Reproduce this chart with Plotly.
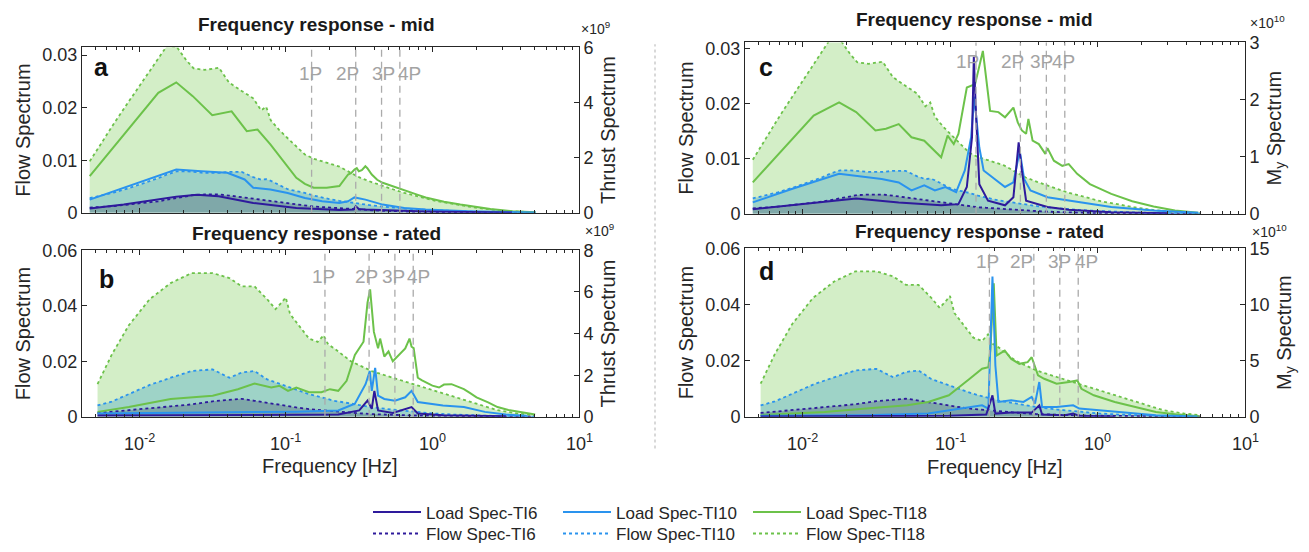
import math
import plotly.graph_objects as go

W, H = 1309, 552

# ---------------- inflow (flow) spectra ----------------
FREQ_FLOW_MID = [0.0046, 0.0055, 0.0068, 0.0085, 0.011, 0.0135, 0.0155, 0.018, 0.021, 0.0235,
                 0.028, 0.035, 0.041, 0.05, 0.06, 0.068, 0.0735, 0.079, 0.09, 0.103,
                 0.12, 0.135, 0.155, 0.177, 0.2, 0.232, 0.27, 0.326, 0.39, 0.458,
                 0.55, 0.643, 0.75, 0.9, 1.05, 1.27, 1.5, 1.77, 2.1, 2.49,
                 3.0, 3.49, 4.2, 5.0]
FLOW_MID_TI18 = [0.0098, 0.0133, 0.0172, 0.0212, 0.0258, 0.0294, 0.0318, 0.0316, 0.029, 0.0275,
                 0.0272, 0.0276, 0.0248, 0.0232, 0.0218, 0.0195, 0.0202, 0.0176, 0.0158, 0.0142,
                 0.0124, 0.0111, 0.0103, 0.0098, 0.0093, 0.0088, 0.0078, 0.0066, 0.0058, 0.0051,
                 0.0044, 0.0038, 0.0033, 0.0028, 0.0023, 0.0019, 0.0015, 0.0012, 0.0009, 0.0006,
                 0.0004, 0.0003, 0.0002, 0.0001]
FLOW_MID_TI10 = [0.0028, 0.0033, 0.0039, 0.0047, 0.0057, 0.0066, 0.0073, 0.0079, 0.0079, 0.0078,
                 0.0076, 0.0076, 0.0078, 0.0078, 0.0068, 0.0063, 0.0064, 0.0061, 0.0053, 0.0045,
                 0.0041, 0.0038, 0.0033, 0.0029, 0.0026, 0.0023, 0.002, 0.0017, 0.0014, 0.0012,
                 0.001, 0.0008, 0.0007, 0.0006, 0.0005, 0.0004, 0.0003, 0.00025, 0.0002, 0.00015,
                 0.0001, 0.00008, 0.00005, 0.00003]
FLOW_MID_TI6 = [0.001, 0.0011, 0.0013, 0.0016, 0.0019, 0.0022, 0.0025, 0.0028, 0.0031, 0.0034,
                0.0035, 0.0035, 0.0033, 0.003, 0.0026, 0.0024, 0.0023, 0.0022, 0.002, 0.0018,
                0.0016, 0.0014, 0.0012, 0.0011, 0.001, 0.0008, 0.0007, 0.0006, 0.0005, 0.0004,
                0.0003, 0.00025, 0.0002, 0.00015, 0.00012, 0.0001, 0.00008, 0.00006, 0.00005, 0.00004,
                0.00003, 0.00002, 0.00002, 0.00001]

FREQ_FLOW_RATED = [0.0052, 0.0065, 0.0085, 0.0118, 0.0164, 0.0228, 0.0317, 0.0412, 0.0502, 0.0612,
                   0.0746, 0.0851, 0.093, 0.1, 0.107, 0.118, 0.144, 0.165, 0.181, 0.195,
                   0.214, 0.278, 0.386, 0.536, 0.745, 1.03, 1.44, 2.0, 2.78, 3.85, 5.0]
FLOW_RATED_TI18 = [0.0118, 0.0224, 0.033, 0.0424, 0.0482, 0.0518, 0.0518, 0.05, 0.047, 0.047,
                   0.0424, 0.0388, 0.041, 0.043, 0.037, 0.0341, 0.0282, 0.027, 0.0294, 0.026,
                   0.0247, 0.02, 0.0165, 0.0141, 0.0118, 0.0094, 0.0071, 0.0047, 0.0024, 0.0012, 0.0006]
FLOW_RATED_TI10 = [0.0041, 0.0055, 0.0082, 0.0115, 0.0141, 0.0165, 0.0171, 0.0141, 0.016, 0.0165,
                   0.0135, 0.0125, 0.0118, 0.0112, 0.0106, 0.0098, 0.0082, 0.0074, 0.0068, 0.0064,
                   0.0058, 0.0048, 0.0035, 0.0026, 0.0018, 0.0012, 0.0008, 0.0005, 0.0003, 0.0002, 0.0001]
FLOW_RATED_TI6 = [0.0014, 0.0018, 0.0024, 0.0031, 0.0038, 0.0045, 0.0056, 0.0062, 0.0065, 0.0058,
                  0.005, 0.0046, 0.0042, 0.004, 0.0037, 0.0034, 0.0028, 0.0025, 0.0023, 0.0021,
                  0.0019, 0.0015, 0.001, 0.0007, 0.0005, 0.0004, 0.0003, 0.0002, 0.00015, 0.0001, 0.00005]

# ---------------- thrust spectra, mid wind speed (x1e9) ----------------
F_THR_MID_TI18 = [0.0046, 0.00785, 0.0135, 0.0179, 0.0232, 0.0315, 0.0427, 0.0542, 0.0642, 0.0785,
                  0.0964, 0.118, 0.135, 0.155, 0.19, 0.232, 0.266, 0.28, 0.294, 0.305,
                  0.315, 0.33, 0.349, 0.36, 0.386, 0.42, 0.458, 0.5, 0.6, 0.7,
                  0.787, 0.9, 1.03, 1.2, 1.55, 2.49, 3.49, 5.07]
THR_MID_TI18 = [1.33, 2.84, 4.35, 4.73, 4.23, 3.54, 3.68, 2.96, 3.02, 2.48,
                1.87, 1.27, 1.05, 0.91, 0.91, 0.97, 1.39, 1.45, 1.57, 1.62,
                1.51, 1.55, 1.69, 1.62, 1.39, 1.2, 1.09, 1.02, 0.85, 0.74,
                0.66, 0.56, 0.48, 0.4, 0.3, 0.14, 0.06, 0.02]
F_THR_MID_TI10 = [0.0046, 0.00785, 0.0179, 0.0266, 0.0399, 0.0524, 0.06, 0.0785, 0.103, 0.135,
                  0.177, 0.232, 0.266, 0.294, 0.305, 0.349, 0.458, 0.643, 0.9, 1.77, 5.07]
THR_MID_TI10 = [0.48, 0.91, 1.57, 1.51, 1.45, 1.21, 0.91, 0.85, 0.72, 0.54,
                0.42, 0.36, 0.42, 0.56, 0.54, 0.48, 0.3, 0.18, 0.12, 0.06, 0.01]
F_THR_MID_TI6 = [0.0046, 0.00785, 0.0179, 0.0248, 0.0348, 0.06, 0.118, 0.232, 0.29, 0.30,
                 0.315, 0.349, 0.9, 3.49]
THR_MID_TI6 = [0.16, 0.3, 0.58, 0.66, 0.6, 0.36, 0.18, 0.1, 0.12, 0.24,
               0.14, 0.12, 0.05, 0.01]

# ---------------- thrust spectra, rated wind speed (x1e9) ----------------
F_THR_RATED_TI18 = [0.0052, 0.0085, 0.0164, 0.0317, 0.0471, 0.0612, 0.0796, 0.0908, 0.1035, 0.118,
                    0.144, 0.175, 0.2, 0.228, 0.26, 0.296, 0.339, 0.361, 0.376, 0.386,
                    0.399, 0.426, 0.44, 0.47, 0.502, 0.537, 0.592, 0.653, 0.698, 0.721,
                    0.745, 0.795, 0.85, 0.908, 1.0, 1.11, 1.2, 1.35, 1.5, 1.64,
                    1.8, 2.0, 2.4, 2.78, 3.3, 3.86, 5.02]
THR_RATED_TI18 = [0.24, 0.47, 0.86, 1.02, 1.33, 1.6, 1.41, 1.49, 1.25, 1.41,
                  1.18, 1.18, 1.33, 1.25, 1.73, 2.98, 3.61, 5.49, 6.12, 5.0,
                  4.08, 3.29, 3.76, 2.9, 3.14, 2.67, 2.98, 3.29, 3.76, 3.37,
                  3.3, 1.88, 1.75, 1.65, 1.5, 1.41, 1.55, 1.57, 1.45, 1.33,
                  1.15, 0.94, 0.7, 0.47, 0.33, 0.24, 0.11]
F_THR_RATED_TI10 = [0.0052, 0.0164, 0.0612, 0.118, 0.228, 0.296, 0.35, 0.374, 0.386, 0.407,
                    0.426, 0.47, 0.555, 0.653, 0.721, 0.795, 1.18, 1.64, 2.28, 3.17, 4.4]
THR_RATED_TI10 = [0.16, 0.19, 0.22, 0.25, 0.31, 0.63, 1.57, 2.2, 1.25, 2.35,
                  1.02, 0.86, 0.78, 0.94, 1.25, 0.71, 0.55, 0.47, 0.24, 0.11, 0.05]
F_THR_RATED_TI6 = [0.0052, 0.0612, 0.228, 0.317, 0.361, 0.386, 0.402, 0.426, 0.537, 0.721,
                   0.795, 1.18, 3.17]
THR_RATED_TI6 = [0.06, 0.08, 0.11, 0.31, 0.78, 0.39, 1.25, 0.31, 0.19, 0.47,
                 0.16, 0.08, 0.03]

# ---------------- My spectra, mid wind speed (x1e10) ----------------
F_MY_MID_TI18 = [0.0046, 0.0075, 0.0119, 0.0177, 0.0231, 0.0312, 0.0368, 0.0449, 0.0548, 0.0669,
                 0.0871, 0.0963, 0.106, 0.114, 0.13, 0.148, 0.167, 0.187, 0.213, 0.236,
                 0.269, 0.288, 0.307, 0.328, 0.34, 0.363, 0.40, 0.443, 0.458, 0.506,
                 0.577, 0.638, 0.728, 0.888, 1.24, 1.72, 2.40, 3.35, 4.82]
MY_MID_TI18 = [0.55, 1.16, 1.72, 1.95, 1.78, 1.46, 1.49, 1.57, 1.34, 1.28,
               0.99, 1.37, 1.22, 1.4, 2.21, 2.27, 2.85, 1.8, 1.78, 1.69,
               1.86, 1.6, 1.46, 1.4, 1.66, 1.28, 1.22, 1.05, 1.15, 0.93,
               0.84, 0.87, 0.7, 0.52, 0.35, 0.22, 0.13, 0.06, 0.02]
F_MY_MID_TI10 = [0.0046, 0.00855, 0.0177, 0.0344, 0.0449, 0.0548, 0.0669, 0.0789, 0.0931, 0.11,
                 0.126, 0.139, 0.146, 0.158, 0.169, 0.193, 0.236, 0.269, 0.297, 0.318,
                 0.351, 0.458, 0.638, 1.24, 2.40, 4.82]
MY_MID_TI10 = [0.2, 0.44, 0.7, 0.61, 0.55, 0.41, 0.5, 0.41, 0.47, 0.38,
               0.76, 1.34, 2.05, 1.16, 0.76, 0.64, 0.47, 0.55, 1.1, 0.61,
               0.41, 0.29, 0.23, 0.12, 0.06, 0.02]
F_MY_MID_TI6 = [0.0046, 0.00855, 0.0231, 0.0449, 0.0871, 0.114, 0.13, 0.141, 0.145, 0.150,
                0.158, 0.181, 0.236, 0.269, 0.292, 0.307, 0.328, 0.458, 0.638, 1.24, 3.0]
MY_MID_TI6 = [0.08, 0.15, 0.27, 0.2, 0.15, 0.17, 0.47, 1.34, 2.75, 1.75,
              0.52, 0.23, 0.15, 0.29, 1.25, 0.76, 0.23, 0.12, 0.07, 0.03, 0.01]

# ---------------- My spectra, rated wind speed (x1e10) ----------------
F_MY_RATED_TI18 = [0.0052, 0.0141, 0.027, 0.0514, 0.0711, 0.0982, 0.136, 0.165, 0.182, 0.188,
                   0.198, 0.207, 0.235, 0.26, 0.295, 0.336, 0.358, 0.395, 0.435, 0.528,
                   0.641, 0.73, 0.778, 0.944, 1.31, 1.8, 2.49, 3.45, 4.92]
MY_RATED_TI18 = [0.15, 0.44, 0.74, 1.03, 1.33, 1.92, 3.39, 4.28, 4.42, 6.05,
                 11.9, 5.46, 5.9, 5.16, 4.72, 4.87, 5.31, 3.69, 3.39, 2.95,
                 3.1, 3.24, 2.5, 1.92, 1.33, 0.88, 0.44, 0.21, 0.06]
F_MY_RATED_TI10 = [0.0052, 0.027, 0.0711, 0.136, 0.165, 0.182, 0.194, 0.203, 0.213, 0.26,
                   0.315, 0.358, 0.377, 0.403, 0.421, 0.528, 0.684, 0.753, 1.31, 2.49, 4.76]
MY_RATED_TI10 = [0.09, 0.15, 0.29, 0.88, 1.03, 0.74, 12.5, 4.57, 1.33, 1.47,
                 1.33, 1.77, 1.18, 3.1, 0.88, 0.88, 1.03, 0.74, 0.44, 0.15, 0.03]
F_MY_RATED_TI6 = [0.0052, 0.0982, 0.176, 0.194, 0.203, 0.26, 0.358, 0.403, 0.421, 0.601,
                  0.684, 0.753, 1.31]
MY_RATED_TI6 = [0.03, 0.09, 0.21, 1.92, 0.29, 0.38, 0.38, 1.03, 0.21, 0.15,
                0.29, 0.09, 0.03]

# rotor harmonics (Hz)
HARM_LABELS = ["1P", "2P", "3P", "4P"]
HARM_MID = [0.15, 0.30, 0.45, 0.60]
HARM_RATED = [0.185, 0.37, 0.555, 0.74]

# frequency axis ticks
X_TICKS = [0.01, 0.1, 1, 10]
X_TICK_TEXT = ["10<sup>-2</sup>", "10<sup>-1</sup>", "10<sup>0</sup>", "10<sup>1</sup>"]

PURPLE = "#2e1a9c"
BLUE = "#2a93ee"
GREEN = "#6cc24a"
FILL = {"TI18": "rgba(110,200,70,0.30)", "TI10": "rgba(60,160,200,0.35)", "TI6": "rgba(80,105,125,0.40)"}
COL = {"TI6": PURPLE, "TI10": BLUE, "TI18": GREEN}
TXT = "#262626"
FONT = "Liberation Sans, Arial, sans-serif"


def px_x(p):
    return p / W


def px_y(p):
    return 1 - p / H


panels = [
    dict(letter="a", title="Frequency response - mid", xa="x", ya="y", yb="y2",
         xd=(82, 579), yd=(48, 216), title_xy=(316, 25), letter_xy=(101, 68),
         lrange=0.0315, lticks=[0, 0.01, 0.02, 0.03], rrange=6, rticks=[0, 2, 4, 6],
         rtitle="Thrust Spectrum", expo="×10<sup>9</sup>", expo_xy=(579, 28),
         fq=FREQ_FLOW_MID, flow=[FLOW_MID_TI18, FLOW_MID_TI10, FLOW_MID_TI6],
         load=[(F_THR_MID_TI18, THR_MID_TI18), (F_THR_MID_TI10, THR_MID_TI10), (F_THR_MID_TI6, THR_MID_TI6)],
         harm=HARM_MID, hlab_y=75, hshift=[-1, -8, 2, 10], bottom=False),
    dict(letter="c", title="Frequency response - mid", xa="x2", ya="y3", yb="y4",
         xd=(745, 1245), yd=(43, 217), title_xy=(975, 20), letter_xy=(766, 68),
         lrange=0.0311, lticks=[0, 0.01, 0.02, 0.03], rrange=3, rticks=[0, 1, 2, 3],
         rtitle="M<sub>y</sub> Spectrum", expo="×10<sup>10</sup>", expo_xy=(1248, 22),
         fq=FREQ_FLOW_MID, flow=[FLOW_MID_TI18, FLOW_MID_TI10, FLOW_MID_TI6],
         load=[(F_MY_MID_TI18, MY_MID_TI18), (F_MY_MID_TI10, MY_MID_TI10), (F_MY_MID_TI6, MY_MID_TI6)],
         harm=HARM_MID, hlab_y=62, hshift=[-8, -8, -5, -1], bottom=False),
    dict(letter="b", title="Frequency response - rated", xa="x3", ya="y5", yb="y6",
         xd=(82, 579), yd=(254, 423), title_xy=(316, 237), letter_xy=(106, 283),
         lrange=0.06, lticks=[0, 0.02, 0.04, 0.06], rrange=8, rticks=[0, 2, 4, 6, 8],
         rtitle="Thrust Spectrum", expo="×10<sup>9</sup>", expo_xy=(583, 233),
         fq=FREQ_FLOW_RATED, flow=[FLOW_RATED_TI18, FLOW_RATED_TI10, FLOW_RATED_TI6],
         load=[(F_THR_RATED_TI18, THR_RATED_TI18), (F_THR_RATED_TI10, THR_RATED_TI10), (F_THR_RATED_TI6, THR_RATED_TI6)],
         harm=HARM_RATED, hlab_y=281, hshift=[-1, -3, -1, 5], bottom=True, xtitle_xy=(330, 473)),
    dict(letter="d", title="Frequency response - rated", xa="x4", ya="y7", yb="y8",
         xd=(745, 1245), yd=(252, 423), title_xy=(979, 235), letter_xy=(766, 275),
         lrange=0.06, lticks=[0, 0.02, 0.04, 0.06], rrange=15, rticks=[0, 5, 10, 15],
         rtitle="M<sub>y</sub> Spectrum", expo="×10<sup>10</sup>", expo_xy=(1250, 234),
         fq=FREQ_FLOW_RATED, flow=[FLOW_RATED_TI18, FLOW_RATED_TI10, FLOW_RATED_TI6],
         load=[(F_MY_RATED_TI18, MY_RATED_TI18), (F_MY_RATED_TI10, MY_RATED_TI10), (F_MY_RATED_TI6, MY_RATED_TI6)],
         harm=HARM_RATED, hlab_y=265, hshift=[-2, -12, 0, 8], bottom=True, xtitle_xy=(995, 474)),
]

fig = go.Figure()
layout = dict(width=W, height=H, autosize=False, margin=dict(l=0, r=0, t=0, b=0),
              paper_bgcolor="white", plot_bgcolor="white",
              font=dict(family=FONT, size=18, color=TXT), showlegend=True)
annotations, shapes = [], []

minor_vals = [k * 10 ** e for e in range(-3, 1) for k in range(2, 10)]
names = ["TI18", "TI10", "TI6"]

for p in panels:
    xa, ya, yb = p["xa"], p["ya"], p["yb"]
    xkey = "xaxis" + xa[1:]
    ykey = "yaxis" + ya[1:]
    y2key = "yaxis" + yb[1:]
    # flow spectra: dotted outline with translucent fill
    for nm, vals in zip(names, p["flow"]):
        fig.add_trace(go.Scatter(x=p["fq"], y=vals, xaxis=xa, yaxis=ya, mode="lines",
                                 fill="tozeroy", fillcolor=FILL[nm],
                                 line=dict(color=COL[nm], width=1.8, dash="dot"),
                                 showlegend=False, hoverinfo="skip"))
    # load spectra: solid lines on the right axis
    for nm, (fx, vals) in zip(names, p["load"]):
        fig.add_trace(go.Scatter(x=fx, y=vals, xaxis=xa, yaxis=yb, mode="lines",
                                 line=dict(color=COL[nm], width=2),
                                 showlegend=False, hoverinfo="skip"))
    x0, x1 = px_x(p["xd"][0]), px_x(p["xd"][1])
    ylo, yhi = px_y(p["yd"][1]), px_y(p["yd"][0])
    layout[xkey] = dict(type="log", range=[-2.39, 1.0], domain=[x0, x1], anchor=ya,
                        showline=True, linecolor=TXT, linewidth=1, mirror="ticks",
                        ticks="inside", ticklen=5, tickcolor=TXT, tickvals=X_TICKS,
                        showticklabels=False, showgrid=False, zeroline=False,
                        minor=dict(ticks="inside", ticklen=3, tickcolor=TXT, tickvals=minor_vals, showgrid=False),
                        automargin=False)
    layout[ykey] = dict(range=[0, p["lrange"]], domain=[ylo, yhi], anchor=xa,
                        showline=True, linecolor=TXT, linewidth=1,
                        ticks="inside", ticklen=5, tickcolor=TXT,
                        tickvals=p["lticks"], ticktext=[("%g" % v) for v in p["lticks"]],
                        showgrid=False, zeroline=False, automargin=False,
                        title=dict(text="Flow Spectrum", font=dict(size=20), standoff=6),
                        tickfont=dict(size=18))
    layout[y2key] = dict(range=[0, p["rrange"]], overlaying=ya, side="right", anchor=xa,
                         showline=True, linecolor=TXT, linewidth=1,
                         ticks="inside", ticklen=5, tickcolor=TXT,
                         tickvals=p["rticks"], showgrid=False, zeroline=False, automargin=False,
                         title=dict(text=p["rtitle"], font=dict(size=20), standoff=8),
                         tickfont=dict(size=18))
    # frequency tick labels and axis title under the bottom panels
    if p["bottom"]:
        for tv, tt in zip(X_TICKS, X_TICK_TEXT):
            annotations.append(dict(text=tt, xref=xa, yref="paper", x=math.log10(tv), y=px_y(449),
                                    xanchor="center", yanchor="middle", showarrow=False,
                                    font=dict(size=18, color=TXT)))
        annotations.append(dict(text="Frequency [Hz]", xref="paper", yref="paper",
                                x=px_x(p["xtitle_xy"][0]), y=px_y(p["xtitle_xy"][1]),
                                xanchor="center", yanchor="middle", showarrow=False,
                                font=dict(size=20, color=TXT)))
    # rotor harmonic markers
    for lab, f, sh in zip(HARM_LABELS, p["harm"], p["hshift"]):
        shapes.append(dict(type="line", xref=xa, yref=ya + " domain", x0=f, x1=f, y0=0, y1=1,
                           line=dict(color="#ababab", width=1.3, dash="7px,5px"), layer="above"))
        annotations.append(dict(text=lab, xref=xa, yref="paper", x=math.log10(f), y=px_y(p["hlab_y"]),
                                xanchor="center", yanchor="middle", xshift=sh, showarrow=False,
                                font=dict(size=19, color="#a3a3a3")))
    annotations.append(dict(text="<b>%s</b>" % p["title"], xref="paper", yref="paper",
                            x=px_x(p["title_xy"][0]), y=px_y(p["title_xy"][1]),
                            xanchor="center", yanchor="middle", showarrow=False,
                            font=dict(size=19, color="#1a1a1a")))
    annotations.append(dict(text="<b>%s</b>" % p["letter"], xref="paper", yref="paper",
                            x=px_x(p["letter_xy"][0]), y=px_y(p["letter_xy"][1]),
                            xanchor="center", yanchor="middle", showarrow=False,
                            font=dict(size=25, color="#111111")))
    annotations.append(dict(text=p["expo"], xref="paper", yref="paper",
                            x=px_x(p["expo_xy"][0]), y=px_y(p["expo_xy"][1]),
                            xanchor="left", yanchor="middle", showarrow=False,
                            font=dict(size=14, color=TXT)))

# separator between the thrust and My columns
shapes.append(dict(type="line", xref="paper", yref="paper", x0=px_x(655), x1=px_x(655),
                   y0=px_y(455), y1=px_y(45), line=dict(color="#c4c4c4", width=1.3, dash="dot")))

# legend entries
for nm, lab in [("TI6", "Load Spec-TI6"), ("TI10", "Load Spec-TI10"), ("TI18", "Load Spec-TI18")]:
    fig.add_trace(go.Scatter(x=[None], y=[None], mode="lines", name=lab, legend="legend",
                             line=dict(color=COL[nm], width=2)))
for nm, lab in [("TI6", "Flow Spec-TI6"), ("TI10", "Flow Spec-TI10"), ("TI18", "Flow Spec-TI18")]:
    fig.add_trace(go.Scatter(x=[None], y=[None], mode="lines", name=lab, legend="legend2",
                             line=dict(color=COL[nm], width=2, dash="dot")))

leg_common = dict(orientation="h", xanchor="left", yanchor="middle", x=px_x(368),
                  font=dict(size=17, color=TXT), itemwidth=48, entrywidth=127,
                  bgcolor="rgba(0,0,0,0)", borderwidth=0, traceorder="normal")
layout["legend"] = dict(y=px_y(520), **leg_common)
layout["legend2"] = dict(y=px_y(542), **leg_common)
layout["annotations"] = annotations
layout["shapes"] = shapes
fig.update_layout(**layout)

fig.write_html("out.html")
